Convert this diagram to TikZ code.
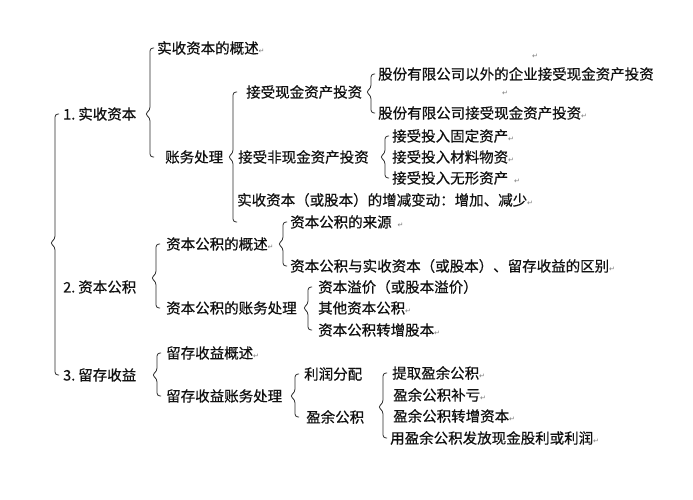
\documentclass[tikz,border=0pt]{standalone}
\usepackage{fontspec}
\newfontfamily\cjk[FakeBold=0.5]{Noto Sans CJK SC}
\newfontfamily\symf{DejaVu Sans}
\usetikzlibrary{calc}
\definecolor{ink}{HTML}{111111}
\definecolor{retgray}{HTML}{7A7A7A}
\newcommand\rmk{{\symf\fontsize{7}{7}\selectfont\textcolor{retgray}{↵}}}
\tikzset{
  lbl/.style={anchor=west, inner sep=0pt, font=\cjk\fontsize{14.5}{17}\selectfont, text=ink},
  retmark/.style={inner sep=0pt, font=\symf\fontsize{7}{7}\selectfont, text=retgray},
  bracestyle/.style={draw=ink!90, line width=0.8pt, rounded corners=3pt}
}
% #1 tip y-offset, #2 x of brace line, #3 top node, #4 parent (tip) node, #5 bottom node
\newcommand\brc[5][0]{%
  \coordinate (bl) at (#2,0);
  \draw[bracestyle] ($(bl |- #3.west)+(4,0)$) -- (bl |- #3.west)
    -- ($(bl |- #4.center)+(0,#1-4)$) -- ($(bl |- #4.center)+(-5,#1)$)
    -- ($(bl |- #4.center)+(0,#1+4)$) -- (bl |- #5.west) -- ($(bl |- #5.west)+(4,0)$);
}
\begin{document}
\begin{tikzpicture}[x=1pt,y=-1pt]
\useasboundingbox[fill=white] (0,0) rectangle (693,500);
% level 0
\coordinate (root) at (49,243);
\node[lbl] (n1) at (63,114) {1.\hspace{3pt}实收资本};
\node[lbl] (n2) at (63,287) {2.\hspace{3pt}资本公积};
\node[lbl] (n3) at (63,375) {3.\hspace{3pt}留存收益};
% branch 1
\node[lbl] (a1) at (157,48) {实收资本的概述\rmk};
\node[lbl] (a2) at (165,157) {账务处理};
\node[lbl] (b1) at (246,92) {接受现金资产投资};
\node[lbl] (b2) at (238,157) {接受非现金资产投资};
\node[lbl] (b3) at (237,200) {实收资本（或股本）的增减变动：增加、减少\rmk};
\coordinate (b3end) at (240,222);
\node[lbl] (c1) at (378,74) {股份有限公司以外的企业接受现金资产投资};
\node[lbl] (c2) at (378,113) {股份有限公司接受现金资产投资\rmk};
\node[retmark] (r1) at (535,56) {↵};
\node[retmark] (r2) at (505,93) {↵};
\node[lbl] (d1) at (392,136) {接受投入固定资产\rmk};
\node[lbl] (d2) at (392,157) {接受投入材料物资\rmk};
\node[lbl] (d3) at (392,178) {接受投入无形资产\hspace{6pt}\rmk};
% branch 2
\node[lbl] (e1) at (166,244) {资本公积的概述\rmk};
\node[lbl] (e2) at (166,308) {资本公积的账务处理};
\node[lbl] (f1) at (290,222) {资本公积的来源\hspace{6pt}\rmk};
\node[lbl] (f2) at (290,266) {资本公积与实收资本（或股本）、留存收益的区别\rmk};
\node[lbl] (g1) at (318,287) {资本溢价（或股本溢价）};
\node[lbl] (g2) at (318,308) {其他资本公积\rmk};
\node[lbl] (g3) at (318,330) {资本公积转增股本\rmk};
% branch 3
\node[lbl] (h1) at (166,353) {留存收益概述\rmk};
\node[lbl] (h2) at (166,396) {留存收益账务处理};
\node[lbl] (i1) at (304,374) {利润分配};
\node[lbl] (i2) at (306,417) {盈余公积};
\node[lbl] (j1) at (392,373) {提取盈余公积\rmk};
\node[lbl] (j2) at (393,395) {盈余公积补亏\rmk};
\node[lbl] (j3) at (393,416) {盈余公积转增资本\rmk};
\node[lbl] (j4) at (390,438) {用盈余公积发放现金股利或利润\rmk};
% braces
\brc{55}{n1}{root}{n3}
\brc{150}{a1}{n1}{a2}
\brc{233}{b1}{a2}{b3end}
\brc{371}{c1}{b1}{c2}
\brc{385}{d1}{b2}{d3}
\brc[-9]{156}{e1}{n2}{e2}
\brc{283}{f1}{e1}{f2}
\brc{308}{g1}{e2}{g3}
\brc{157}{h1}{n3}{h2}
\brc{295}{i1}{h2}{i2}
\brc[-10]{383}{j1}{i2}{j4}
\end{tikzpicture}
\end{document}
